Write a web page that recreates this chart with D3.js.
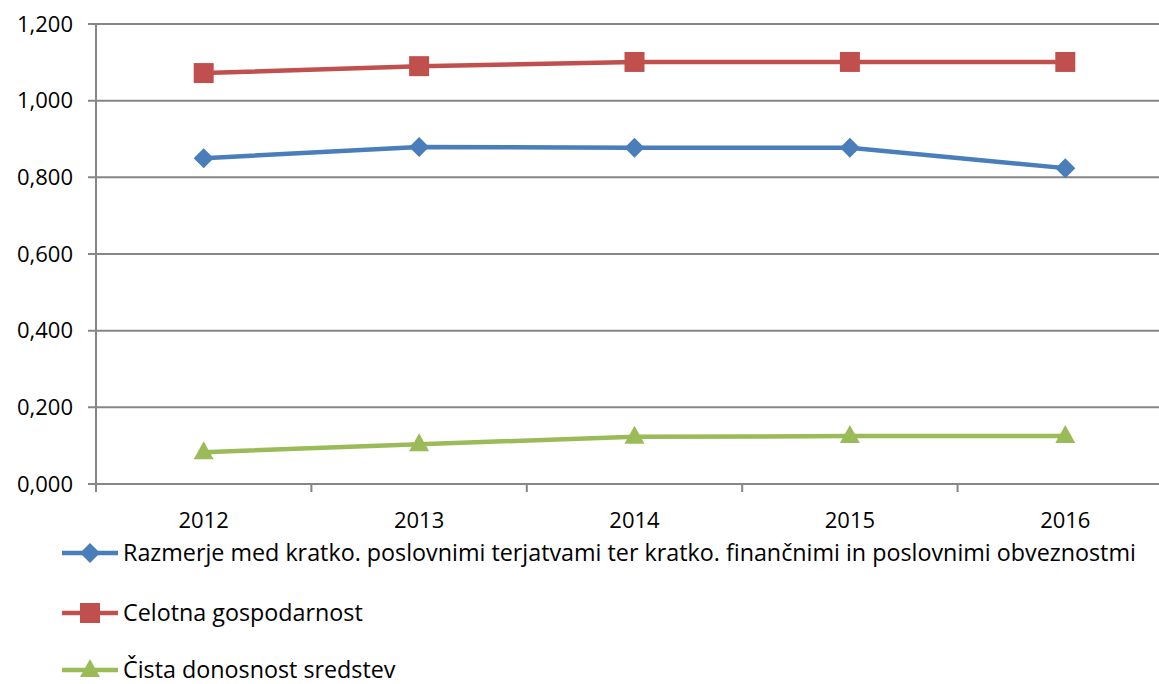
<!DOCTYPE html>
<html>
<head>
<meta charset="utf-8">
<script src="https://cdn.jsdelivr.net/npm/d3@7"></script>
<style>
  body { margin: 0; background: #fff; }
  svg text { font-family: "Open Sans", Lato, sans-serif; fill: #000; }
</style>
</head>
<body>
<div id="chart"></div>
<script>
// chart data
const years = ["2012", "2013", "2014", "2015", "2016"];
const razmerje = [0.850, 0.879, 0.877, 0.877, 0.824];
const celotna = [1.072, 1.090, 1.101, 1.101, 1.101];
const cista = [0.083, 0.104, 0.123, 0.125, 0.125];
const yTicks = [0, 0.2, 0.4, 0.6, 0.8, 1.0, 1.2];

const seriesNames = [
    "Razmerje med kratko. poslovnimi terjatvami ter kratko. finančnimi in poslovnimi obveznostmi",
    "Celotna gospodarnost",
    "Čista donosnost sredstev"
];

const W = 1159, H = 684;
const plot = {left: 96, right: 1173, top: 24, bottom: 484};

const svg = d3.select("#chart").append("svg")
    .attr("width", W)
    .attr("height", H);

const x = d3.scaleBand().domain(years).range([plot.left, plot.right]);
const y = d3.scaleLinear().domain([0, 1.2]).range([plot.bottom, plot.top]);

// excel style labels: 1,200 / 0,800
const yLabel = v => d3.format(".3f")(v).replace(".", ",");

const axisColor = "#868686";

// gridlines
svg.append("g")
    .selectAll("line")
    .data(yTicks)
    .enter().append("line")
    .attr("x1", plot.left - 8)
    .attr("x2", W)
    .attr("y1", d => y(d))
    .attr("y2", d => y(d))
    .attr("stroke", axisColor)
    .attr("stroke-width", 2);

// y axis
svg.append("line")
    .attr("x1", plot.left).attr("x2", plot.left)
    .attr("y1", plot.top).attr("y2", plot.bottom + 7)
    .attr("stroke", axisColor)
    .attr("stroke-width", 2);

svg.append("g")
    .selectAll("text")
    .data(yTicks)
    .enter().append("text")
    .attr("x", plot.left - 23)
    .attr("y", d => y(d))
    .attr("dy", "0.35em")
    .attr("text-anchor", "end")
    .attr("font-size", 22)
    .text(d => yLabel(d));

// x ticks between categories
const xTickPos = years.map(d => x(d)).concat([plot.right]);
svg.append("g")
    .selectAll("line")
    .data(xTickPos)
    .enter().append("line")
    .attr("x1", d => d).attr("x2", d => d)
    .attr("y1", plot.bottom).attr("y2", plot.bottom + 8)
    .attr("stroke", axisColor)
    .attr("stroke-width", 2);

svg.append("g")
    .selectAll("text")
    .data(years)
    .enter().append("text")
    .attr("x", d => x(d) + x.bandwidth() / 2)
    .attr("y", 528)
    .attr("text-anchor", "middle")
    .attr("font-size", 22)
    .text(d => d);

const series = [
    {name: seriesNames[0], values: razmerje, color: "#4A7EBB", shape: "diamond"},
    {name: seriesNames[1], values: celotna, color: "#C0504D", shape: "square"},
    {name: seriesNames[2], values: cista, color: "#9BBB59", shape: "triangle"}
];

function drawMarker(g, shape, color) {
    if (shape === "diamond") {
	g.append("path").attr("d", "M0,-10L10,0L0,10L-10,0Z").attr("fill", color);
    } else if (shape === "square") {
	g.append("rect").attr("x", -10).attr("y", -10).attr("width", 20).attr("height", 20).attr("fill", color);
    } else {
	g.append("path").attr("d", "M0,-11L10,7L-10,7Z").attr("fill", color);
    }
}

const line = d3.line()
    .x((d, i) => x(years[i]) + x.bandwidth() / 2)
    .y(d => y(d));

series.forEach(s => {
    svg.append("path")
	.attr("d", line(s.values))
	.attr("fill", "none")
	.attr("stroke", s.color)
	.attr("stroke-width", 4.5);

    s.values.forEach((v, i) => {
	let g = svg.append("g")
	    .attr("transform", "translate(" + (x(years[i]) + x.bandwidth() / 2) + "," + y(v) + ")");
	drawMarker(g, s.shape, s.color);
    });
});

// legend
const legendY = [553, 613, 670];
series.forEach((s, i) => {
    let g = svg.append("g").attr("transform", "translate(0," + legendY[i] + ")");
    g.append("line")
	.attr("x1", 62).attr("x2", 118)
	.attr("stroke", s.color)
	.attr("stroke-width", 4.5);
    let m = g.append("g").attr("transform", "translate(90,0)");
    drawMarker(m, s.shape, s.color);
    g.append("text")
	.attr("x", 123)
	.attr("y", 0)
	.attr("dy", "0.33em")
	.attr("font-size", 23.3)
	.text(s.name);
});
</script>
</body>
</html>
